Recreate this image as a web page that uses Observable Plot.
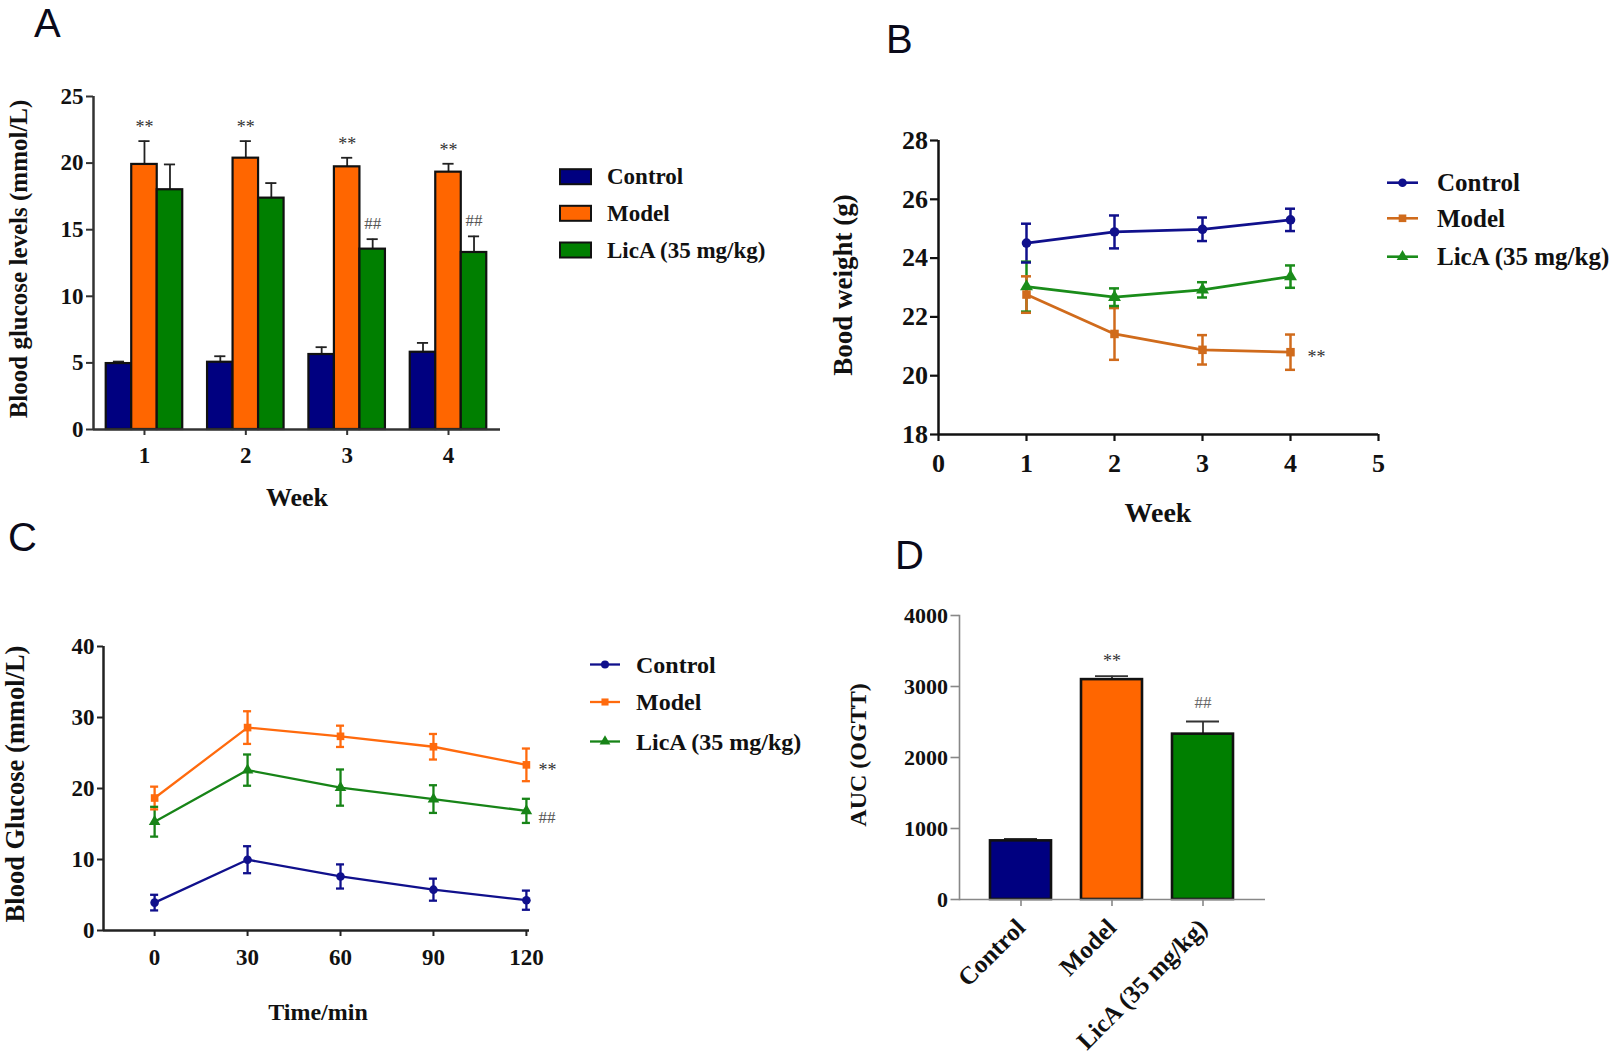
<!DOCTYPE html>
<html>
<head>
<meta charset="utf-8">
<script src="https://cdn.jsdelivr.net/npm/d3@7"></script>
<script src="https://cdn.jsdelivr.net/npm/@observablehq/plot@0.6"></script>
<style>
  html, body { margin: 0; padding: 0; background: #fff; }
  #fig { position: relative; width: 1615px; height: 1056px; overflow: hidden; background: #fff; }
  #fig > svg { position: absolute; }
</style>
</head>
<body>
<div id="fig"></div>
<script>
// ---------------- DATA ----------------
const groups = ["Control", "Model", "LicA (35 mg/kg)"];

// Panel A: blood glucose per week (bars, mean + SEM)
const weeksA = [1, 2, 3, 4];
const aControl = [4.95, 5.05, 5.63, 5.80];
const aControlErr = [0.15, 0.45, 0.55, 0.70];
const aModel = [19.90, 20.37, 19.72, 19.32];
const aModelErr = [1.75, 1.28, 0.68, 0.63];
const aLicA = [18.00, 17.37, 13.54, 13.29];
const aLicAErr = [1.90, 1.13, 0.75, 1.21];
const aModelSig = ["**", "**", "**", "**"];
const aLicASig = ["", "", "##", "##"];
const aYTicks = [0, 5, 10, 15, 20, 25];

// Panel B: body weight per week (lines, mean ± SEM)
const weeksB = [1, 2, 3, 4];
const bControl = [24.51, 24.89, 24.98, 25.30];
const bControlErr = [0.66, 0.56, 0.40, 0.38];
const bModel = [22.76, 21.42, 20.88, 20.80];
const bModelErr = [0.62, 0.88, 0.50, 0.60];
const bLicA = [23.03, 22.67, 22.92, 23.37];
const bLicAErr = [0.85, 0.30, 0.26, 0.38];
const bModelSig = ["", "", "", "**"];
const bXTicks = [0, 1, 2, 3, 4, 5];
const bYTicks = [18, 20, 22, 24, 26, 28];

// Panel C: OGTT blood glucose (lines, mean ± SEM)
const timesC = [0, 30, 60, 90, 120];
const cControl = [3.93, 9.97, 7.61, 5.75, 4.27];
const cControlErr = [1.10, 1.90, 1.70, 1.55, 1.35];
const cModel = [18.66, 28.58, 27.35, 25.88, 23.33];
const cModelErr = [1.60, 2.30, 1.50, 1.80, 2.30];
const cLicA = [15.32, 22.59, 20.13, 18.51, 16.85];
const cLicAErr = [2.10, 2.20, 2.55, 1.95, 1.70];
const cModelSig = ["", "", "", "", "**"];
const cLicASig = ["", "", "", "", "##"];
const cXTicks = [0, 30, 60, 90, 120];
const cYTicks = [0, 10, 20, 30, 40];

// Panel D: AUC of OGTT (bars, mean + SEM)
const dAUC = [826, 3097, 2329];
const dAUCErr = [29, 48, 178];
const dSig = ["", "**", "##"];
const dYTicks = [0, 1000, 2000, 3000, 4000];

// ---------------- STYLE ----------------
const serif = "'Liberation Serif','Times New Roman',serif";
const sans = "'Liberation Sans',Arial,sans-serif";
const barColors = ["#000080", "#ff6600", "#007f00"];
const bColors = ["#10108c", "#d06b1c", "#1a8c1a"];
const cColors = ["#10108c", "#ff6a0d", "#178417"];
const symbols = ["circle", "square", "triangle"];

const fig = document.getElementById("fig");
function styleFor(size) {
  return {fontFamily: serif, fontWeight: "bold", fontSize: size + "px", color: "#111", background: "transparent", overflow: "visible"};
}
function place(svg, left, top) {
  svg.style.left = left + "px";
  svg.style.top = top + "px";
  fig.appendChild(svg);
}
function rowsFrom(xs, means, errs, sigs) {
  return groups.flatMap((g, gi) => xs.map((x, i) => ({
    group: g, gi, x, v: means[gi][i], e: errs[gi][i], sig: sigs[gi] ? sigs[gi][i] : ""
  })));
}

// ---------------- PANEL A ----------------
const aRows = rowsFrom(weeksA, [aControl, aModel, aLicA], [aControlErr, aModelErr, aLicAErr], [null, aModelSig, aLicASig]);
const xDomA = [0.497, 4.513];
const barW = 0.2517;
const aX1 = d => d.x + (d.gi - 1.5) * barW;
const aXc = d => d.x + (d.gi - 1) * barW;
const capA = 0.055;
const plotA = Plot.plot({
  width: 520, height: 520,
  marginLeft: 93, marginRight: 20, marginTop: 96, marginBottom: 91,
  x: {type: "linear", domain: xDomA},
  y: {domain: [0, 25]},
  color: {domain: groups, range: barColors},
  style: styleFor(23),
  marks: [
    Plot.ruleX(aRows, {x: aXc, y1: "v", y2: d => d.v + d.e, stroke: "#222", strokeWidth: 1.8}),
    Plot.ruleY(aRows, {y: d => d.v + d.e, x1: d => aXc(d) - capA, x2: d => aXc(d) + capA, stroke: "#222", strokeWidth: 1.8}),
    Plot.rect(aRows, {x1: aX1, x2: d => aX1(d) + barW, y1: 0, y2: "v", fill: "group", stroke: "#111", strokeWidth: 2.2}),
    Plot.text(aRows.filter(d => d.sig === "**"), {x: aXc, y: d => d.v + d.e, text: "sig", dy: -14, fontSize: 18, fill: "#333", fontWeight: "normal"}),
    Plot.text(aRows.filter(d => d.sig === "##"), {x: aXc, y: d => d.v + d.e, text: "sig", dy: -16, fontSize: 17, fill: "#555", fontWeight: "normal"}),
    Plot.ruleX([xDomA[0]], {stroke: "#333", strokeWidth: 2.5}),
    Plot.ruleY([0], {stroke: "#333", strokeWidth: 2.5}),
    Plot.axisY({ticks: aYTicks, tickSize: 7, tickPadding: 3, label: null, stroke: "#333", strokeWidth: 2, fill: "#111"}),
    Plot.axisX({ticks: weeksA, tickSize: 6, tickPadding: 11, label: null, tickFormat: d3.format("d"), stroke: "#333", strokeWidth: 2, fill: "#111"})
  ]
});
place(plotA, 0, 0);

// ---------------- PANEL B ----------------
const bRows = rowsFrom(weeksB, [bControl, bModel, bLicA], [bControlErr, bModelErr, bLicAErr], [null, bModelSig, null]);
const bDraw = [2, 1, 0].flatMap(gi => bRows.filter(d => d.gi === gi));
const capB = 0.057;
const plotB = Plot.plot({
  width: 580, height: 540,
  marginLeft: 118, marginRight: 22, marginTop: 140, marginBottom: 106,
  x: {domain: [0, 5]},
  y: {domain: [18, 28]},
  color: {domain: groups, range: bColors},
  symbol: {domain: groups, range: symbols},
  style: styleFor(26),
  marks: [
    Plot.line(bDraw, {x: "x", y: "v", stroke: "group", z: "group", strokeWidth: 2.8}),
    Plot.ruleX(bDraw, {x: "x", y1: d => d.v - d.e, y2: d => d.v + d.e, stroke: "group", strokeWidth: 2.5}),
    Plot.ruleY(bDraw, {y: d => d.v + d.e, x1: d => d.x - capB, x2: d => d.x + capB, stroke: "group", strokeWidth: 2.5}),
    Plot.ruleY(bDraw, {y: d => d.v - d.e, x1: d => d.x - capB, x2: d => d.x + capB, stroke: "group", strokeWidth: 2.5}),
    Plot.dot(bDraw, {x: "x", y: "v", fill: "group", symbol: "group", r: 4.8, stroke: "none"}),
    Plot.text(bRows.filter(d => d.sig), {x: "x", y: "v", text: "sig", dx: 26, dy: 5, fontSize: 18, fill: "#333", fontWeight: "normal"}),
    Plot.ruleX([0], {stroke: "#111", strokeWidth: 2.5}),
    Plot.ruleY([18], {stroke: "#111", strokeWidth: 2.5}),
    Plot.axisY({ticks: bYTicks, tickSize: 8, tickPadding: 2.5, label: null, stroke: "#111", strokeWidth: 2.2, fill: "#111"}),
    Plot.axisX({ticks: bXTicks, tickSize: 7, tickPadding: 12, label: null, tickFormat: d3.format("d"), stroke: "#111", strokeWidth: 2.2, fill: "#111"})
  ]
});
place(plotB, 820, 0);

// ---------------- PANEL C ----------------
const cRows = rowsFrom(timesC, [cControl, cModel, cLicA], [cControlErr, cModelErr, cLicAErr], [null, cModelSig, cLicASig]);
const cDraw = [2, 1, 0].flatMap(gi => cRows.filter(d => d.gi === gi));
const capC = 1.3;
const xDomC = [-16.5, 121];
const plotC = Plot.plot({
  width: 560, height: 536,
  marginLeft: 103, marginRight: 31, marginTop: 126, marginBottom: 126,
  x: {domain: xDomC},
  y: {domain: [0, 40]},
  color: {domain: groups, range: cColors},
  symbol: {domain: groups, range: symbols},
  style: styleFor(23),
  marks: [
    Plot.line(cDraw, {x: "x", y: "v", stroke: "group", z: "group", strokeWidth: 2.3}),
    Plot.ruleX(cDraw, {x: "x", y1: d => d.v - d.e, y2: d => d.v + d.e, stroke: "group", strokeWidth: 2.3}),
    Plot.ruleY(cDraw, {y: d => d.v + d.e, x1: d => d.x - capC, x2: d => d.x + capC, stroke: "group", strokeWidth: 2.3}),
    Plot.ruleY(cDraw, {y: d => d.v - d.e, x1: d => d.x - capC, x2: d => d.x + capC, stroke: "group", strokeWidth: 2.3}),
    Plot.dot(cDraw, {x: "x", y: "v", fill: "group", symbol: "group", r: 4.3, stroke: "none"}),
    Plot.text(cRows.filter(d => d.sig === "**"), {x: "x", y: "v", text: "sig", dx: 12, dy: 5, textAnchor: "start", fontSize: 18, fill: "#333", fontWeight: "normal"}),
    Plot.text(cRows.filter(d => d.sig === "##"), {x: "x", y: "v", text: "sig", dx: 12, dy: 7, textAnchor: "start", fontSize: 17, fill: "#555", fontWeight: "normal"}),
    Plot.ruleX([xDomC[0]], {stroke: "#222", strokeWidth: 2.5}),
    Plot.ruleY([0], {stroke: "#222", strokeWidth: 2.5}),
    Plot.axisY({ticks: cYTicks, tickSize: 6, tickPadding: 3, label: null, stroke: "#222", strokeWidth: 2, fill: "#111"}),
    Plot.axisX({ticks: cXTicks, tickSize: 6, tickPadding: 12, label: null, tickFormat: d3.format("d"), stroke: "#222", strokeWidth: 2, fill: "#111"})
  ]
});
place(plotC, 0, 520);

// ---------------- PANEL D ----------------
const dRows = groups.map((g, i) => ({group: g, v: dAUC[i], e: dAUCErr[i], sig: dSig[i]}));
const plotD = Plot.plot({
  width: 480, height: 516,
  marginLeft: 139, marginRight: 35, marginTop: 75, marginBottom: 157,
  x: {domain: groups, paddingInner: 0.327, paddingOuter: 0.327},
  y: {domain: [0, 4000]},
  color: {domain: groups, range: barColors},
  style: styleFor(22),
  marks: [
    Plot.ruleX(dRows, {x: "group", y1: "v", y2: d => d.v + d.e, stroke: "#333", strokeWidth: 1.8}),
    Plot.tickY(dRows, {x: "group", y: d => d.v + d.e, insetLeft: 14, insetRight: 14, stroke: "#333", strokeWidth: 1.8}),
    Plot.barY(dRows, {x: "group", y1: 0, y2: "v", fill: "group", stroke: "#111", strokeWidth: 2.6}),
    Plot.text(dRows.filter(d => d.sig === "**"), {x: "group", y: d => d.v + d.e, text: "sig", dy: -15, fontSize: 18, fill: "#333", fontWeight: "normal"}),
    Plot.text(dRows.filter(d => d.sig === "##"), {x: "group", y: d => d.v + d.e, text: "sig", dy: -19, fontSize: 17, fill: "#666", fontWeight: "normal"}),
    Plot.ruleY([0], {stroke: "#888", strokeWidth: 1.6}),
    Plot.frame({anchor: "left", stroke: "#888", strokeWidth: 1.6}),
    Plot.axisY({ticks: dYTicks, tickSize: 8.5, tickPadding: 3, label: null, tickFormat: d3.format("d"), stroke: "#888", strokeWidth: 1.6, fill: "#111"}),
    Plot.axisX({tickRotate: -45, tickSize: 7, tickPadding: 17, label: null, fontSize: 25, stroke: "#888", strokeWidth: 1.6, fill: "#111"})
  ]
});
place(plotD, 820, 540);

// ---------------- OVERLAY: panel letters, axis titles, legends ----------------
const ov = d3.select(fig).append("svg")
  .attr("width", 1615).attr("height", 1056)
  .style("left", "0px").style("top", "0px").style("pointer-events", "none");

function addText(x, y, str, o = {}) {
  const t = ov.append("text")
    .attr("x", x).attr("y", y)
    .attr("font-size", o.size || 22)
    .attr("font-weight", o.weight || "bold")
    .attr("font-family", o.family || serif)
    .attr("text-anchor", o.anchor || "middle")
    .attr("dominant-baseline", o.baseline || "central")
    .attr("fill", o.fill || "#111")
    .text(str);
  if (o.rotate) t.attr("transform", `rotate(${o.rotate},${x},${y})`);
  return t;
}

// panel letters
const letterOpts = {size: 40, weight: "normal", family: sans, anchor: "start", baseline: "alphabetic", fill: "#0a0a1a"};
addText(34, 37, "A", letterOpts);
addText(886, 53, "B", letterOpts);
addText(8, 551, "C", letterOpts);
addText(895, 569, "D", letterOpts);

// axis titles
addText(18, 259, "Blood glucose levels (mmol/L)", {size: 25, rotate: -90});
addText(297, 497, "Week", {size: 26});
addText(843, 285, "Bood weight (g)", {size: 27, rotate: -90});
addText(1158, 512, "Week", {size: 28});
addText(15, 784, "Blood Glucose (mmol/L)", {size: 26.5, rotate: -90});
addText(318, 1012, "Time/min", {size: 24});
addText(858, 755, "AUC (OGTT)", {size: 24, rotate: -90});

// legend A (bar swatches)
const legA = [176.7, 213.3, 250];
groups.forEach((g, i) => {
  ov.append("rect").attr("x", 560).attr("y", legA[i] - 7.5).attr("width", 31).attr("height", 15)
    .attr("fill", barColors[i]).attr("stroke", "#111").attr("stroke-width", 2);
  addText(607, legA[i], g, {size: 23, anchor: "start"});
});

// legend helpers for line legends
const symTypes = [d3.symbolCircle, d3.symbolSquare, d3.symbolTriangle];
function lineLegend(x0, x1, tx, ys, colors, r, sw, size) {
  groups.forEach((g, i) => {
    ov.append("line").attr("x1", x0).attr("x2", x1).attr("y1", ys[i]).attr("y2", ys[i])
      .attr("stroke", colors[i]).attr("stroke-width", sw);
    ov.append("path").attr("transform", `translate(${(x0 + x1) / 2},${ys[i]})`)
      .attr("d", d3.symbol(symTypes[i], Math.PI * r * r)()).attr("fill", colors[i]);
    addText(tx, ys[i], g, {size, anchor: "start"});
  });
}
lineLegend(1387, 1418, 1437, [182.7, 218.3, 256.7], bColors, 4.3, 2.6, 25);
lineLegend(590, 620, 636, [664.5, 702, 741.5], cColors, 4, 2.3, 24);
</script>
</body>
</html>
